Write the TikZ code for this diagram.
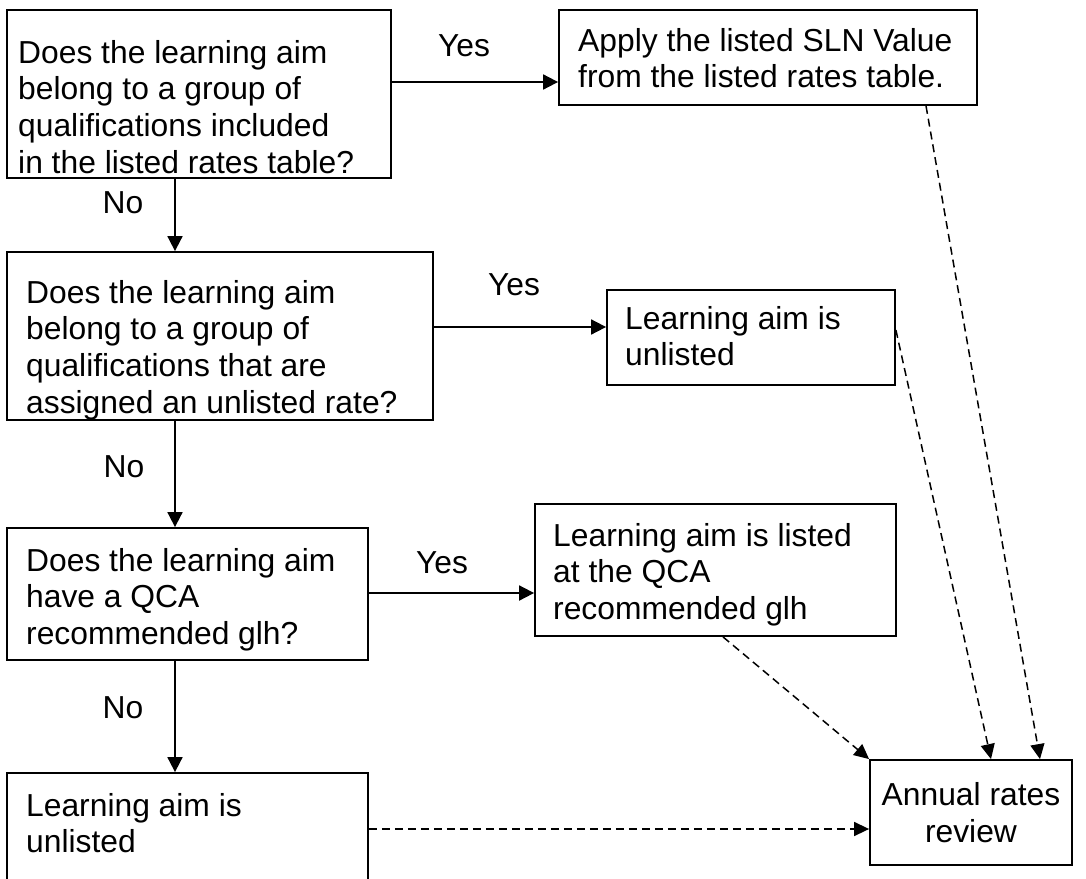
\documentclass[tikz,border=0pt]{standalone}
\usepackage{fontspec}
\setmainfont{Liberation Sans}
\usetikzlibrary{arrows.meta}
\begin{document}
\begin{tikzpicture}[x=1pt,y=-1pt,
  box/.style={draw=black,line width=1.8pt,rectangle,inner sep=0pt},
  txt/.style={anchor=north west,inner sep=0pt,align=left,font=\fontsize{31.8}{36.6}\selectfont},
  lbl/.style={inner sep=0pt,font=\fontsize{31.8}{36.6}\selectfont},
  arr/.style={line width=1.8pt,-{Triangle[length=15pt,width=15pt]}},
  darr/.style={line width=1.5pt,dash pattern=on 8pt off 5pt,-{Triangle[length=15pt,width=14pt]}}]
\useasboundingbox (0,0) rectangle (1086,878);
% boxes
\node[box,minimum width=384pt,minimum height=168pt] (A) at (199,94) {};
\node[box,minimum width=418pt,minimum height=95pt] (B) at (768,57.5) {};
\node[box,minimum width=426pt,minimum height=168pt] (C) at (220,336) {};
\node[box,minimum width=288pt,minimum height=95pt] (D) at (751,337.5) {};
\node[box,minimum width=361pt,minimum height=132pt] (E) at (187.5,594) {};
\node[box,minimum width=361pt,minimum height=132pt] (F) at (715.5,570) {};
\node[box,minimum width=361pt,minimum height=130pt] (G) at (187.5,838) {};
\node[box,minimum width=202pt,minimum height=105pt] (H) at (971,812.5) {};
% texts
\node[txt] (At) at (18,40) {Does the learning aim\\belong to a group of\\qualifications included\\in the listed rates table?};
\node[txt] (Bt) at (578,28) {Apply the listed SLN Value\\from the listed rates table.};
\node[txt] (Ct) at (26,280) {Does the learning aim\\belong to a group of\\qualifications that are\\assigned an unlisted rate?};
\node[txt] (Dt) at (625,306) {Learning aim is\\unlisted};
\node[txt] (Et) at (26,548) {Does the learning aim\\have a QCA\\recommended glh?};
\node[txt] (Ft) at (553,523) {Learning aim is listed\\at the QCA\\recommended glh};
\node[txt] (Gt) at (26,793) {Learning aim is\\unlisted};
\node[lbl,align=center] (Ht) at (971,812.5) {Annual rates\\review};
% labels
\node[lbl] (y1) at (464,46) {Yes};
\node[lbl] (n1) at (123,203) {No};
\node[lbl] (y2) at (514,285) {Yes};
\node[lbl] (n2) at (124,467) {No};
\node[lbl] (y3) at (442,563) {Yes};
\node[lbl] (n3) at (123,708) {No};
% solid connectors
\draw[arr] (A.east |- 0,82) -- (B.west |- 0,82);
\draw[arr] (A.south -| 175,0) -- (C.north -| 175,0);
\draw[arr] (C.east |- 0,327) -- (D.west |- 0,327);
\draw[arr] (C.south -| 175,0) -- (E.north -| 175,0);
\draw[arr] (E.east |- 0,593) -- (F.west |- 0,593);
\draw[arr] (E.south -| 175,0) -- (G.north -| 175,0);
% dashed connectors
\draw[darr] (B.south -| 926,0) -- (H.north -| 1040,0);
\draw[darr] (D.east |- 0,330) -- (H.north -| 991,0);
\draw[darr] (F.south -| 723,0) -- (H.north west);
\draw[darr] (G.east |- 0,829) -- (H.west |- 0,829);
\end{tikzpicture}
\end{document}
